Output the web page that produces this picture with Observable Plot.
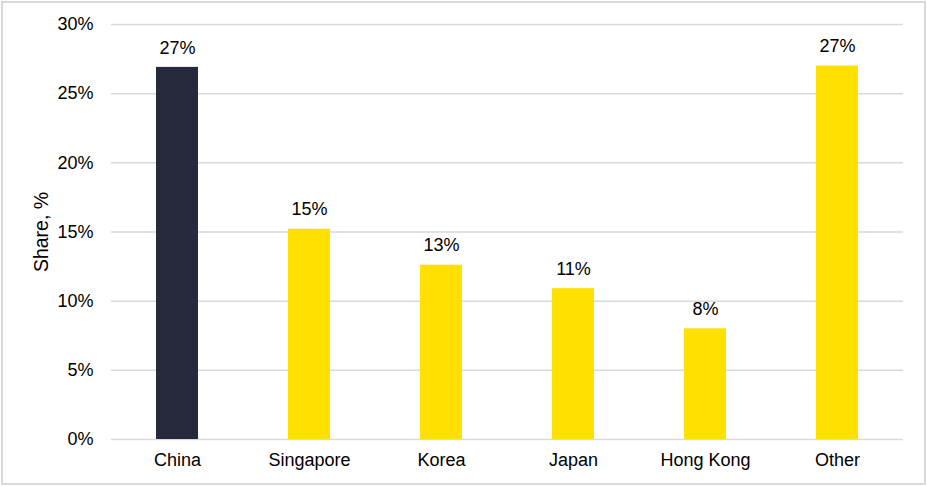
<!DOCTYPE html>
<html>
<head>
<meta charset="utf-8">
<script src="https://cdn.jsdelivr.net/npm/d3@7"></script>
<script src="https://cdn.jsdelivr.net/npm/@observablehq/plot@0.6"></script>
<style>
  html, body { margin: 0; padding: 0; background: #fff; }
  #chart svg { display: block; outline: 2px solid #d9d9d9; outline-offset: -3px; }
</style>
</head>
<body>
<div id="chart"></div>
<script>
const categories = ["China", "Singapore", "Korea", "Japan", "Hong Kong", "Other"];
const shares = [26.9, 15.2, 12.6, 10.9, 8.0, 27.0];
const labels = ["27%", "15%", "13%", "11%", "8%", "27%"];
const colors = ["#262a3c", "#ffe000", "#ffe000", "#ffe000", "#ffe000", "#ffe000"];
const yTicks = [0, 5, 10, 15, 20, 25, 30];

const data = categories.map((c, i) => ({ cat: c, v: shares[i], label: labels[i], color: colors[i] }));

const font = "Liberation Sans, Arial, sans-serif";
const fs = 18;

const chart = Plot.plot({
  width: 927,
  height: 486,
  marginLeft: 111,
  marginRight: 24,
  marginTop: 24,
  marginBottom: 47,
  style: { fontFamily: font, fontSize: fs + "px", color: "#000", background: "#fff" },
  x: { domain: categories, paddingInner: 0.68, paddingOuter: 0.34, label: null },
  y: { domain: [0, 30], label: null },
  marks: [
    Plot.gridY(yTicks, { stroke: "#d9d9d9", strokeOpacity: 1, strokeWidth: 1.5 }),
    Plot.barY(data, { x: "cat", y: "v", fill: "color" }),
    Plot.text(data, { x: "cat", y: "v", text: "label", dy: -19.5, fontSize: fs, fill: "#000" }),
    Plot.axisY({ ticks: yTicks, tickFormat: d => d + "%", tickSize: 0, tickPadding: 18, fontSize: fs, label: null }),
    Plot.axisX({ tickSize: 0, tickPadding: 14, fontSize: fs, label: null }),
    Plot.text(["Share, %"], { frameAnchor: "left", textAnchor: "middle", dx: -70, rotate: -90, fontSize: 19.5, fill: "#000" })
  ]
});
document.getElementById("chart").appendChild(chart);
</script>
</body>
</html>
